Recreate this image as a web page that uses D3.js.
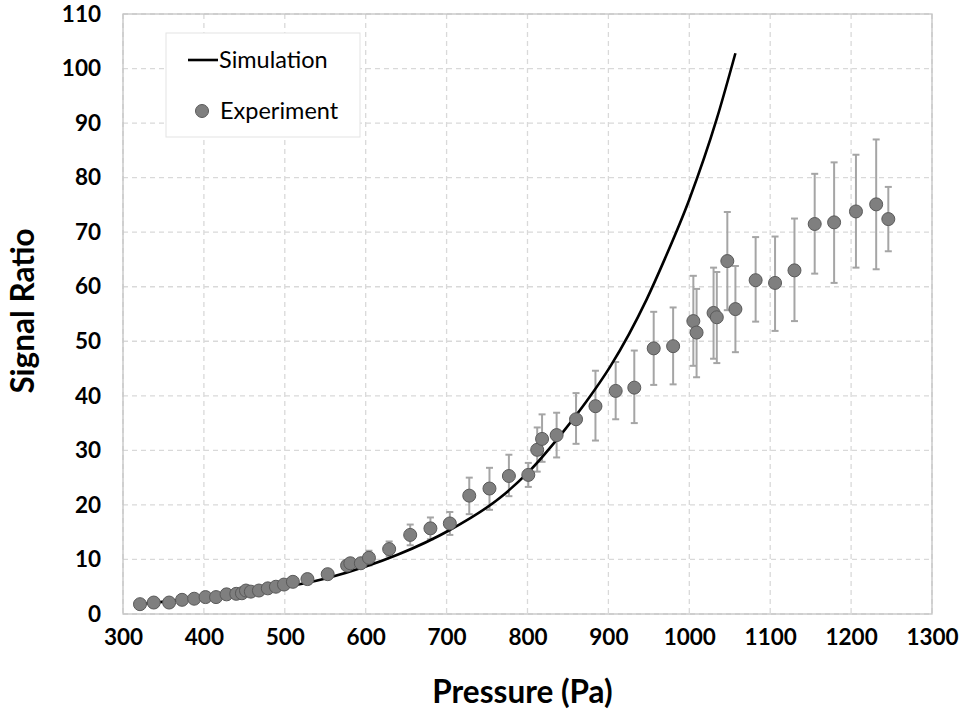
<!DOCTYPE html>
<html>
<head>
<meta charset="utf-8">
<script src="https://cdn.jsdelivr.net/npm/d3@7"></script>
<style>
  body { margin: 0; background: #fff; }
  svg { display: block; font-family: Lato, "Open Sans", sans-serif; }
</style>
</head>
<body>
<svg id="chart" width="962" height="721"></svg>
<script>
// experiment: pressure (Pa), signal ratio, error bar low / high
var expPressure = [321, 338, 357, 373, 388, 402, 415, 428, 440, 447, 452, 458, 468, 479, 489, 499, 510, 528, 553, 577, 581, 594,
    604, 629, 655, 680, 704, 728, 753, 777, 801, 812, 818, 836, 860, 884, 909, 932, 956, 980,
    1005, 1009, 1030, 1034, 1047, 1057, 1082, 1106, 1130, 1155, 1179, 1206, 1231, 1246];
var expRatio = [1.8, 2.1, 2.1, 2.6, 2.8, 3.1, 3.1, 3.6, 3.7, 3.8, 4.3, 4.1, 4.3, 4.7, 5.0, 5.4, 5.9, 6.4, 7.3, 8.9, 9.3, 9.3,
    10.3, 11.9, 14.5, 15.7, 16.6, 21.7, 23.0, 25.3, 25.5, 30.1, 32.1, 32.8, 35.7, 38.1, 40.9, 41.5, 48.7, 49.1,
    53.7, 51.6, 55.2, 54.4, 64.7, 55.9, 61.2, 60.7, 63.0, 71.5, 71.8, 73.8, 75.1, 72.4];
var expLow = [1.8, 2.1, 2.1, 2.6, 2.8, 3.1, 3.1, 3.6, 3.7, 3.8, 4.3, 4.1, 4.3, 4.7, 5.0, 5.4, 5.9, 6.4, 7.3, 8.9, 9.3, 9.3,
    8.9, 10.6, 12.6, 13.7, 14.5, 18.3, 19.1, 21.6, 23.3, 26.1, 27.9, 28.7, 31.2, 31.8, 35.7, 35.0, 42.0, 42.1,
    45.5, 43.4, 46.8, 46.0, 55.7, 48.0, 53.6, 51.9, 53.7, 62.4, 60.7, 63.5, 63.2, 66.5];
var expHigh = [1.8, 2.1, 2.1, 2.6, 2.8, 3.1, 3.1, 3.6, 3.7, 3.8, 4.3, 4.1, 4.3, 4.7, 5.0, 5.4, 5.9, 6.4, 7.3, 8.9, 9.3, 9.3,
    11.6, 13.3, 16.4, 17.7, 18.7, 25.0, 26.8, 29.2, 27.7, 34.2, 36.6, 36.9, 40.5, 44.6, 46.2, 48.3, 55.4, 56.2,
    62.0, 59.6, 63.5, 62.7, 73.7, 63.8, 69.1, 69.2, 72.5, 80.7, 82.8, 84.2, 87.0, 78.3];

// simulation curve
var simPressure = [320, 400, 478, 553, 600, 640, 704, 766, 801, 844, 873, 902, 947, 970, 1000, 1034, 1057];
var simRatio = [1.8, 3.0, 4.4, 6.6, 8.7, 10.9, 15.4, 21.3, 26.0, 33.4, 39.0, 45.3, 57.6, 65.2, 76.0, 90.8, 102.8];

var xTicks = [300, 400, 500, 600, 700, 800, 900, 1000, 1100, 1200, 1300];
var yTicks = [0, 10, 20, 30, 40, 50, 60, 70, 80, 90, 100, 110];

var svg = d3.select("#chart");
var margin = {left: 123, top: 14, right: 30, bottom: 107};
var width = 962 - margin.left - margin.right;
var height = 721 - margin.top - margin.bottom;

var x = d3.scaleLinear().domain([300, 1300]).range([0, width]);
var y = d3.scaleLinear().domain([0, 110]).range([height, 0]);

var g = svg.append("g").attr("transform", "translate(" + margin.left + "," + margin.top + ")");

// grid
g.selectAll(".vgrid").data(xTicks).enter().append("line")
    .attr("x1", function(d) { return x(d); }).attr("x2", function(d) { return x(d); })
    .attr("y1", 0).attr("y2", height)
    .attr("stroke", "#d9d9d9").attr("stroke-width", 1.3).attr("stroke-dasharray", "5,4");
g.selectAll(".hgrid").data(yTicks).enter().append("line")
    .attr("x1", 0).attr("x2", width)
    .attr("y1", function(d) { return y(d); }).attr("y2", function(d) { return y(d); })
    .attr("stroke", "#d9d9d9").attr("stroke-width", 1.3).attr("stroke-dasharray", "5,4");

g.append("rect").attr("width", width).attr("height", height)
    .attr("fill", "none").attr("stroke", "#c4c4c4").attr("stroke-width", 1.3);

// axes (labels only)
var xAxis = g.append("g").attr("transform", "translate(0," + height + ")")
    .call(d3.axisBottom(x).tickValues(xTicks).tickFormat(d3.format("d")).tickSize(0).tickPadding(15));
var yAxis = g.append("g")
    .call(d3.axisLeft(y).tickValues(yTicks).tickFormat(d3.format("d")).tickSize(0).tickPadding(22));
[xAxis, yAxis].forEach(function(a) {
    a.select(".domain").remove();
    a.selectAll("text").attr("font-family", "Lato, sans-serif").attr("font-weight", "bold")
        .attr("font-size", 22.5).attr("fill", "#000");
});

svg.append("text").attr("x", margin.left + width / 2 - 5).attr("y", 703)
    .attr("text-anchor", "middle").attr("font-weight", "bold").attr("font-size", 31.5)
    .text("Pressure (Pa)");
svg.append("text").attr("transform", "translate(34," + (margin.top + 297) + ") rotate(-90)")
    .attr("text-anchor", "middle").attr("font-weight", "bold").attr("font-size", 31.5)
    .text("Signal Ratio");

var experiment = expPressure.map(function(p, i) {
    return {p: p, s: expRatio[i], lo: expLow[i], hi: expHigh[i]};
});
var sim = simPressure.map(function(p, i) { return {p: p, s: simRatio[i]}; });

// error bars
var bars = g.selectAll(".err").data(experiment.filter(function(d) { return d.hi > d.lo; }))
    .enter().append("g").attr("stroke", "#a5a5a5").attr("stroke-width", 2);
bars.append("line")
    .attr("x1", function(d) { return x(d.p); }).attr("x2", function(d) { return x(d.p); })
    .attr("y1", function(d) { return y(d.lo); }).attr("y2", function(d) { return y(d.hi); });
bars.append("line")
    .attr("x1", function(d) { return x(d.p) - 3.5; }).attr("x2", function(d) { return x(d.p) + 3.5; })
    .attr("y1", function(d) { return y(d.lo); }).attr("y2", function(d) { return y(d.lo); });
bars.append("line")
    .attr("x1", function(d) { return x(d.p) - 3.5; }).attr("x2", function(d) { return x(d.p) + 3.5; })
    .attr("y1", function(d) { return y(d.hi); }).attr("y2", function(d) { return y(d.hi); });

// simulation line
var line = d3.line()
    .x(function(d) { return x(d.p); })
    .y(function(d) { return y(d.s); })
    .curve(d3.curveMonotoneX);
g.append("path").datum(sim).attr("d", line)
    .attr("fill", "none").attr("stroke", "#000").attr("stroke-width", 2.6);

// experiment points
g.selectAll(".pt").data(experiment).enter().append("circle")
    .attr("cx", function(d) { return x(d.p); })
    .attr("cy", function(d) { return y(d.s); })
    .attr("r", 6.5)
    .attr("fill", "#7f7f7f").attr("stroke", "#5a5a5a").attr("stroke-width", 1);

// legend
var leg = svg.append("g").attr("transform", "translate(166,33)");
leg.append("rect").attr("width", 194).attr("height", 104)
    .attr("fill", "#fff").attr("stroke", "#e3e3e3").attr("stroke-width", 1);
leg.append("line").attr("x1", 22).attr("x2", 52).attr("y1", 27).attr("y2", 27)
    .attr("stroke", "#000").attr("stroke-width", 2.6);
leg.append("text").attr("x", 53).attr("y", 35).attr("font-size", 23.5).text("Simulation");
leg.append("circle").attr("cx", 36).attr("cy", 78).attr("r", 6.5)
    .attr("fill", "#7f7f7f").attr("stroke", "#5a5a5a").attr("stroke-width", 1);
leg.append("text").attr("x", 54).attr("y", 86).attr("font-size", 23.5).text("Experiment");
</script>
</body>
</html>
